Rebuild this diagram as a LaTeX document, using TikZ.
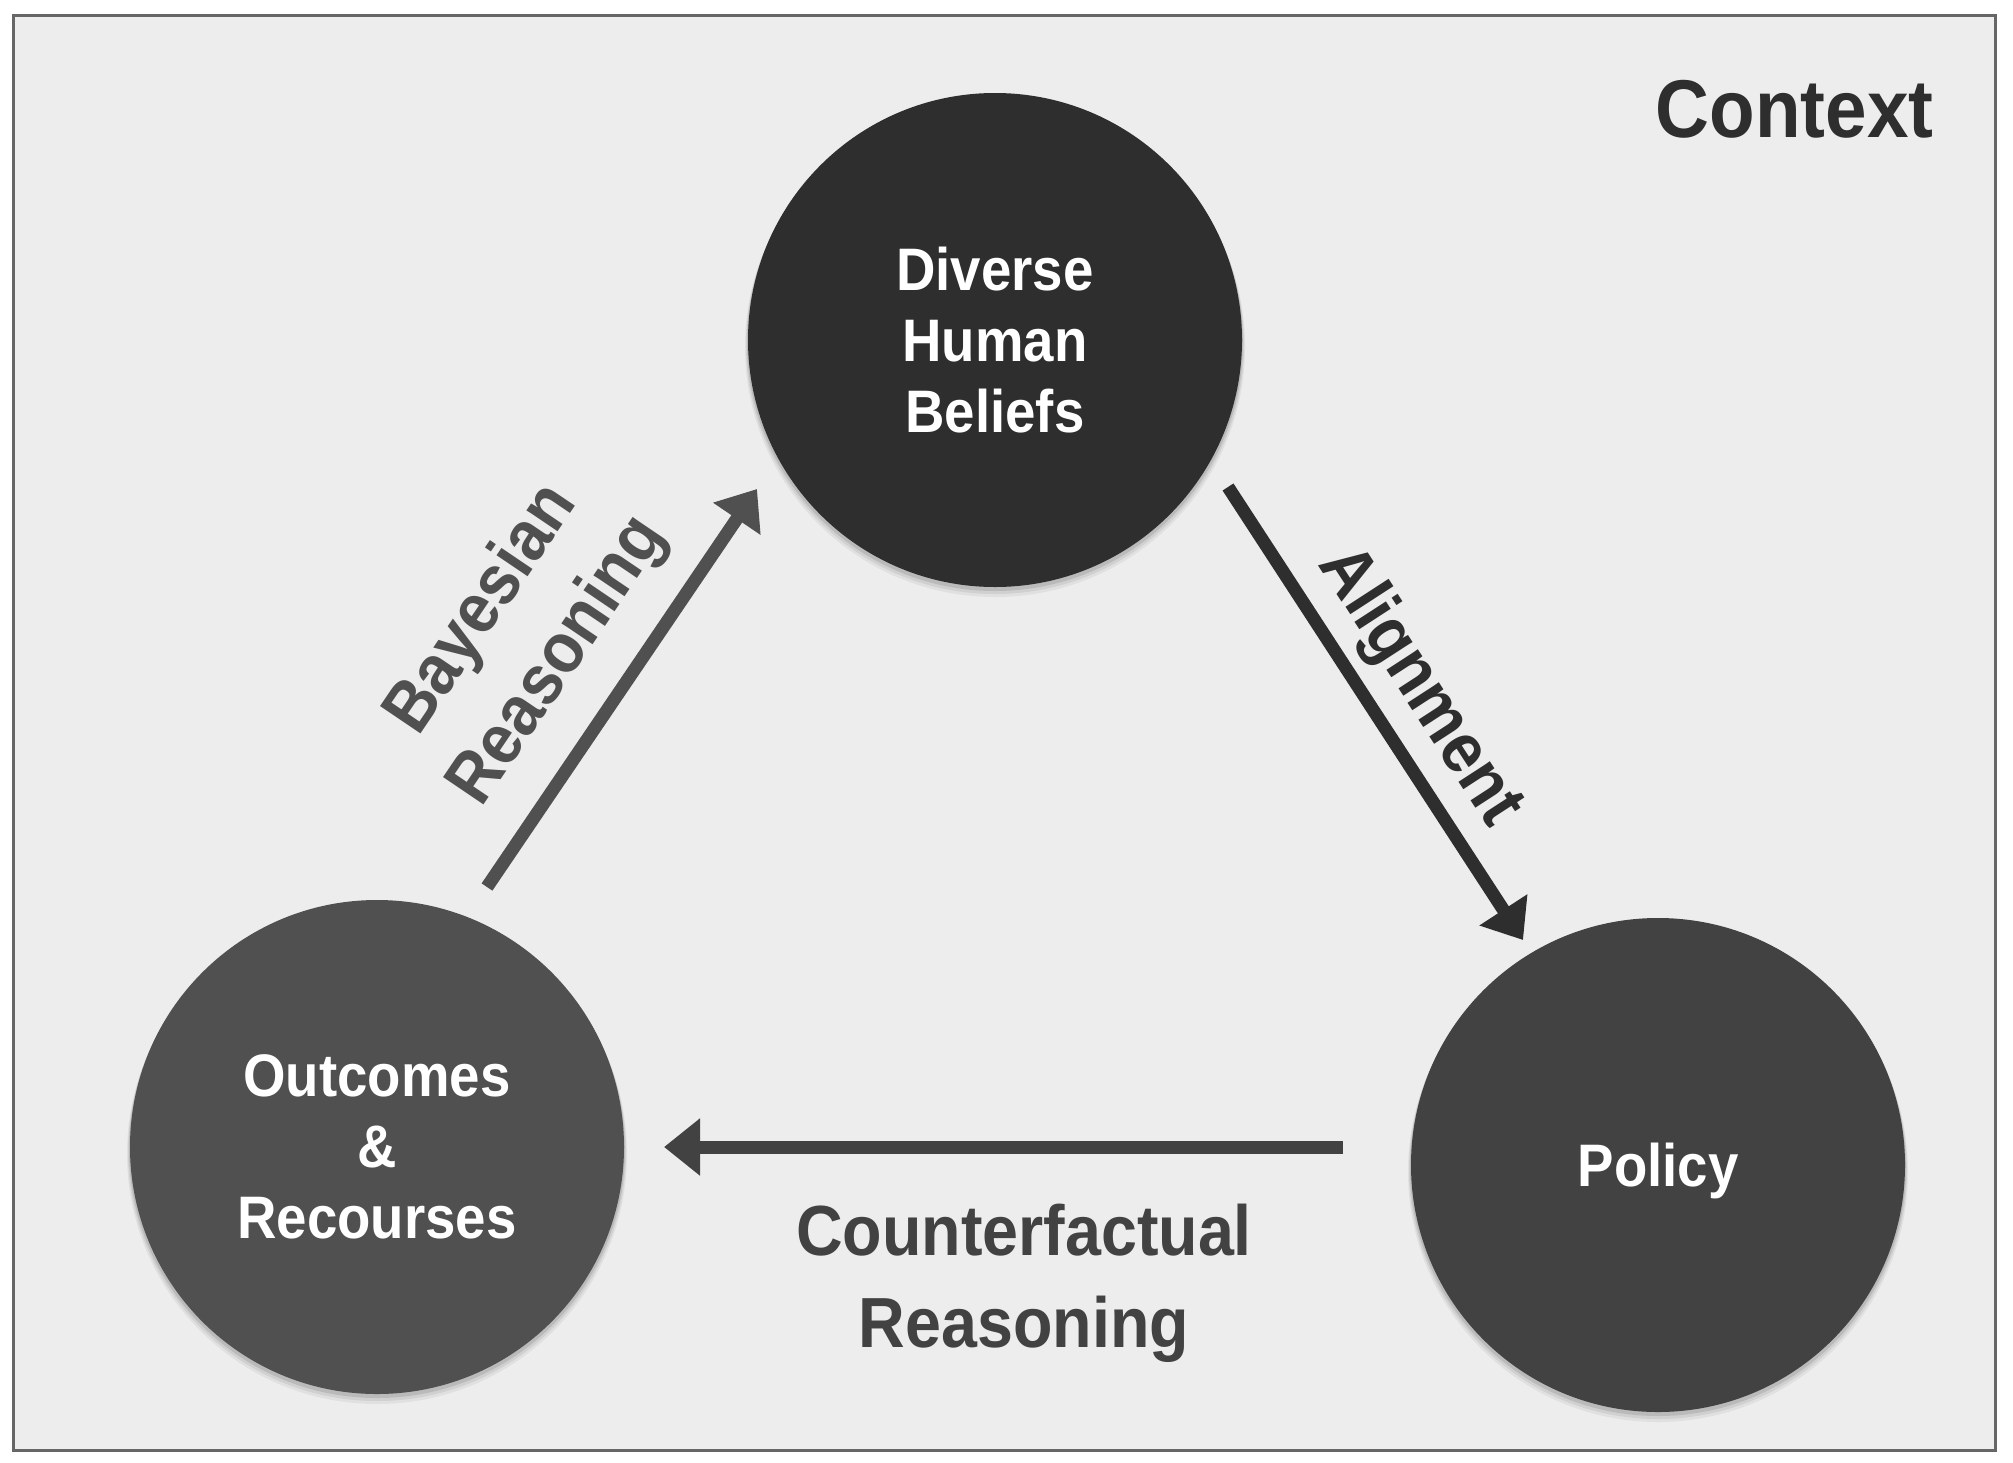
\documentclass[tikz,border=0pt]{standalone}
\usepackage{fontspec}
\setmainfont{Liberation Sans}[FakeStretch=0.91]
\usetikzlibrary{arrows.meta}
\definecolor{bgc}{HTML}{EDEDED}
\definecolor{framec}{HTML}{666666}
\definecolor{cbel}{HTML}{2E2E2E}
\definecolor{cout}{HTML}{505050}
\definecolor{cpol}{HTML}{424242}
\begin{document}
\begin{tikzpicture}[x=0.5pt,y=-0.5pt,
  bubble/.style={circle, inner sep=0pt, minimum size=247pt, text=white, align=center,
    font={\fontsize{30pt}{35.5pt}\selectfont\bfseries}},
  conn/.style={line width=6.5pt, -{Triangle[length=18pt,width=27.5pt]}},
  lab/.style={inner sep=0pt, font={\fontsize{35.5pt}{46pt}\selectfont\bfseries}},
  shadowc/.style={fill=black}]
\fill[white] (0,0) rectangle (2013,1462);
\useasboundingbox (0,0) rectangle (2013,1462);
\draw[framec, line width=1.5pt, fill=bgc] (13,15) rectangle (1995,1450);

\coordinate (pb) at (995,340);
\coordinate (po) at (377,1147);
\coordinate (pp) at (1658,1165);
\foreach \c in {pb,po,pp}{
  \fill[shadowc, opacity=0.05] ([yshift=-3.5pt]\c) circle[radius=125pt];
  \fill[shadowc, opacity=0.07] ([yshift=-2.5pt]\c) circle[radius=124.5pt];
  \fill[shadowc, opacity=0.10] ([yshift=-1.5pt]\c) circle[radius=124pt];
}

\node[bubble, fill=cbel] (beliefs) at (pb) {Diverse\\Human\\Beliefs};
\node[bubble, fill=cout] (outcomes) at (po) {Outcomes\\\&\\Recourses};
\node[bubble, fill=cpol, text depth=0pt] (policy) at (pp) {Policy};

\draw[conn, cout] ([shift={(110,-260)}]outcomes.center) -- ([shift={(-238,149)}]beliefs.center);
\draw[conn, cbel] ([shift={(233,147)}]beliefs.center) -- ([shift={(-135,-225)}]policy.center);
\draw[conn, cpol] ([shift={(-315,-18)}]policy.center) -- ([shift={(287,0)}]outcomes.center);

\node[lab, cout, rotate=55.9, align=center] (bay) at (521,636) {Bayesian\\Reasoning};
\node[lab, cbel, rotate=-57] (ali) at (1419,687) {Alignment};
\node[lab, cpol, align=center, anchor=north] (cf) at (1024,1204) {Counterfactual\\Reasoning};
\node[inner sep=0pt, font={\fontsize{41pt}{48pt}\selectfont\bfseries}, text=cbel, anchor=base east] (ctx) at (1934,137) {Context};
\end{tikzpicture}
\end{document}
